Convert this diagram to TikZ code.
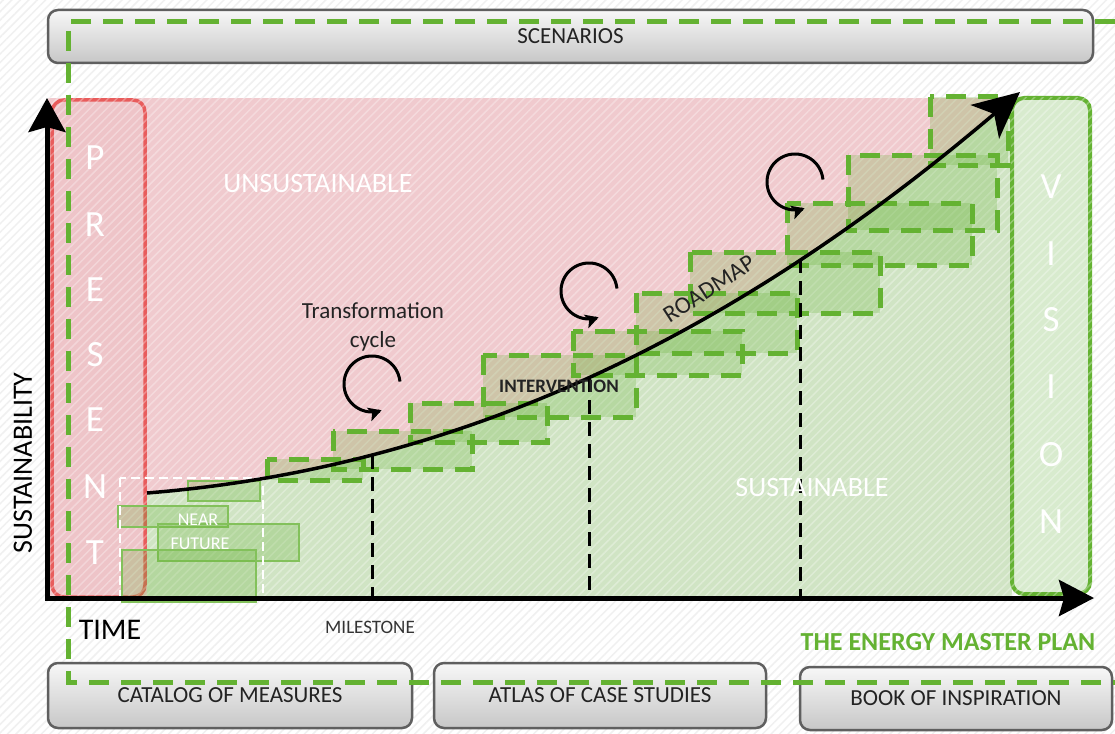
\documentclass[tikz,border=0pt]{standalone}
\usepackage{fontspec}
\setmainfont{Carlito}
\usetikzlibrary{arrows.meta,patterns.meta}

\definecolor{pinkbg}{RGB}{240,202,206}
\definecolor{pinkpres}{RGB}{238,196,200}
\definecolor{greenbg}{RGB}{208,228,196}
\definecolor{visionbg}{RGB}{216,235,206}
\definecolor{mpgreen}{RGB}{100,178,50}
\definecolor{redline}{RGB}{232,92,92}
\definecolor{barborder}{RGB}{95,95,95}
\definecolor{txtdark}{RGB}{35,35,35}

\tikzset{
  fs/.style={font=\fontsize{#1}{#1}\selectfont},
  bar/.style={draw=barborder, line width=2.5pt, rounded corners=10pt,
    top color=black!3, bottom color=black!22, text=txtdark, inner sep=0pt},
  gdash/.style={draw=mpgreen, line width=5pt, dash pattern=on 20pt off 12pt},
  gbox/.style={gdash, fill=mpgreen, fill opacity=0.24},
  nfbox/.style={draw=mpgreen!80!white, line width=1.3pt, fill=mpgreen, fill opacity=0.25},
  milestone/.style={draw=black, line width=3pt, dash pattern=on 14pt off 8pt},
  cyc/.style={draw=black, line width=3pt, -{Stealth[length=13pt,width=14pt,inset=3pt]}},
  letter/.style={text=white, fs=37, inner sep=0pt},
  bigtip/.style={-{Stealth[length=46pt,width=44pt,inset=12pt]}},
}

\begin{document}
\begin{tikzpicture}[x=1pt,y=-1pt]
\useasboundingbox (0,0) rectangle (1115,733);
\fill[white] (0,0) rectangle (1115,733);
\fill[pattern={Lines[angle=45,distance=6pt,line width=1.5pt]}, pattern color=black!6] (0,0) rectangle (1115,733);

% coloured regions
\coordinate (rs) at (147,493);
\coordinate (re) at (1020,92);
\fill[pinkbg] (48,98) rectangle (1012,598);
\begin{scope}
  \clip (48,98) rectangle (1012,598);
  \fill[greenbg] (147,600) -- (rs) .. controls (497,465) and (770,304) .. (re) -- (1030,92) -- (1030,600) -- cycle;
\end{scope}

% vision and present boxes
\node[draw=mpgreen, line width=4pt, rounded corners=12pt, fill=visionbg,
      minimum width=78pt, minimum height=496pt] (vision) at (1051,346) {};
\node[draw=redline, line width=3.5pt, rounded corners=12pt, fill=pinkpres,
      minimum width=93pt, minimum height=497pt] (present) at (98.5,348.5) {};

% stripes over the chart
\fill[pattern={Lines[angle=45,distance=6pt,line width=1.5pt]}, pattern color=white, opacity=0.3] (48,98) rectangle (1092,598);

% staircase of interventions
\foreach \a/\b/\c/\d in {267/459/363/480, 333/431/472/469, 410/403/547/442,
   483/355/636/417, 573/331/742/375, 636/293/797/353, 690/252/880/313,
   787/203/972/265, 848/155/997/230, 930/97/1008/165}
  \draw[gbox] (\a,\b) rectangle (\c,\d);

% near future
\foreach \a/\b/\c/\d in {188/481/260/501, 118/506/228/527, 158/524/299/561, 122/550/256/602}
  \draw[nfbox] (\a,\b) rectangle (\c,\d);
\draw[white, line width=2.2pt, dash pattern=on 9pt off 5pt] (120,478) rectangle (263,597);

% milestones
\coordinate (m1t) at (372,455); \coordinate (m1b) at (372,598);
\coordinate (m2t) at (589,378); \coordinate (m2b) at (589,598);
\coordinate (m3t) at (800,259); \coordinate (m3b) at (800,598);
\draw[milestone] (m1t) -- (m1b);
\draw[milestone] (m2t) -- (m2b);
\draw[milestone] (m3t) -- (m3b);

% roadmap
\draw[line width=3.5pt, bigtip] (rs) .. controls (497,465) and (770,304) .. (re);

% axes
\coordinate (ytip) at (47,98);
\coordinate (orig) at (47,598);
\coordinate (xtip) at (1094,598);
\draw[line width=5pt, {Stealth[length=34pt,width=37pt,inset=5pt]}-{Stealth[length=35pt,width=36pt,inset=5pt]}] (ytip) -- (orig) -- (xtip);

% bars
\node[bar, minimum width=1045pt, minimum height=53pt, fs=23] (scen) at (570.5,36.5) {SCENARIOS};
\node[bar, minimum width=364pt, minimum height=65pt, fs=23] (cat) at (230,695.5) {CATALOG OF MEASURES};
\node[bar, minimum width=332pt, minimum height=65pt, fs=23] (atlas) at (600,695.5) {ATLAS OF CASE STUDIES};
\node[bar, minimum width=312pt, minimum height=63pt, fs=23] (book) at (956,698.5) {BOOK OF INSPIRATION};

% master plan frame
\coordinate (f1) at (1115,22);
\coordinate (f2) at (68,22);
\coordinate (f3) at (68,682);
\coordinate (f4) at (1115,682);
\draw[gdash] (f1) -- (f2) -- (f3) -- (f4);

% letters
\foreach \ch/\yy [count=\i] in {P/158,R/225,E/290,S/355,E/420,N/487,T/553}
  \node[letter] (pr\i) at (95,\yy) {\ch};
\foreach \ch/\yy [count=\i] in {V/187,I/254,S/320,I/387,O/455,N/522}
  \node[letter] (vi\i) at (1051,\yy) {\ch};

% texts
\node[fs=28, text=white] (unsus) at (318,184) {UNSUSTAINABLE};
\node[fs=28, text=white] (sus) at (812,488) {SUSTAINABLE};
\node[font=\fontsize{23}{29}\selectfont, align=center, text=txtdark] (tc) at (373,327) {Transformation\\cycle};
\node[font=\fontsize{19}{19}\selectfont\bfseries, text=txtdark] (interv) at (559,386) {INTERVENTION};
\node[fs=24, rotate=33, text=txtdark] (road) at (709,289) {ROADMAP};
\node[fs=18, text=white] (near) at (198,520) {NEAR};
\node[fs=18, text=white] (fut) at (200,544) {FUTURE};
\node[fs=19, text=black!80] (mile) at (370,627) {MILESTONE};
\node[fs=30, text=black] (time) at (110,630) {TIME};
\node[fs=28, text=black, rotate=90] (sust) at (23,463) {SUSTAINABILITY};
\node[font=\fontsize{26}{26}\selectfont\bfseries, text=mpgreen] (emp) at (948,642) {THE ENERGY MASTER PLAN};

% transformation cycles
\draw[cyc] plot[domain=0:285, samples=60, smooth] ({372+28*cos(-5-\x)}, {384+28*sin(-5-\x)});
\draw[cyc] plot[domain=0:285, samples=60, smooth] ({589+28*cos(-5-\x)}, {291+28*sin(-5-\x)});
\draw[cyc] plot[domain=0:285, samples=60, smooth] ({795+28*cos(-5-\x)}, {182+28*sin(-5-\x)});
\end{tikzpicture}
\end{document}
